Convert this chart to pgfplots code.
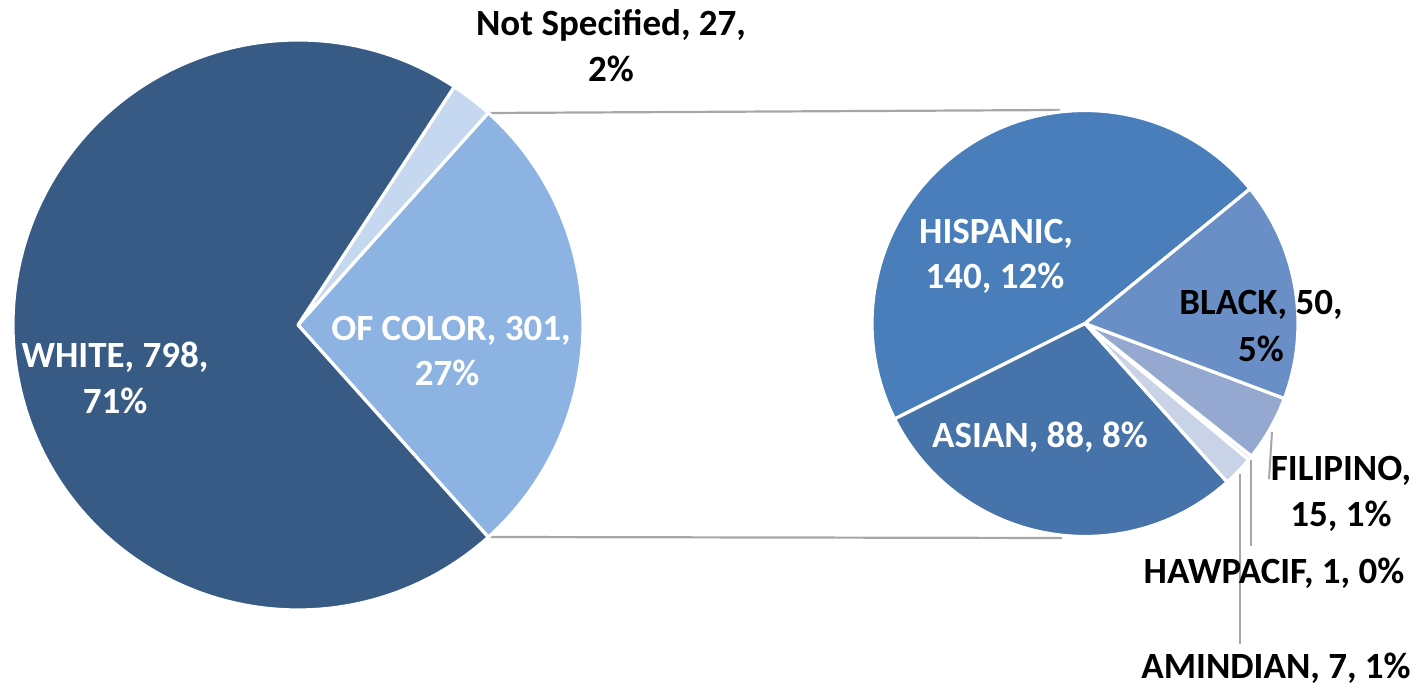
\documentclass[border=0pt]{standalone}
\usepackage{pgfplots}
\pgfplotsset{compat=1.18}
\usepackage{pgfplotstable}
\usepackage{fontspec}
\setmainfont{Carlito}
\definecolor{cWhite}{HTML}{375B85}
\definecolor{cNS}{HTML}{C6D8F0}
\definecolor{cOC}{HTML}{8DB3E2}
\definecolor{cHisp}{HTML}{4A7EBB}
\definecolor{cBlack}{HTML}{6A8FC6}
\definecolor{cAsian}{HTML}{4673A9}
\definecolor{cFil}{HTML}{95A8D0}
\definecolor{cHaw}{HTML}{DDE4F1}
\definecolor{cAmi}{HTML}{C9D3E7}
\definecolor{cLine}{HTML}{A6A6A6}

\pgfplotstableread{
name value
White 798
NotSpecified 27
OfColor 301
}\maintab
\pgfplotstableread{
name value
Hispanic 140
Asian 88
Amindian 7
Hawpacif 1
Filipino 15
Black 50
}\subtab

\newcommand{\getv}[3]{\pgfplotstablegetelem{#2}{value}\of#1\let#3\pgfplotsretval}
\newcommand{\slice}[6]{\filldraw[fill=#6, draw=white, line width=1.6pt, line join=round] (axis cs:#1,#2) -- ++(#4:#3) arc[start angle=#4, end angle=#5, radius=#3] -- cycle;}

\begin{document}
\begin{tikzpicture}
\getv\maintab{0}\vW
\getv\maintab{1}\vNS
\getv\maintab{2}\vOC
\getv\subtab{0}\vH
\getv\subtab{1}\vA
\getv\subtab{2}\vAm
\getv\subtab{3}\vHw
\getv\subtab{4}\vF
\getv\subtab{5}\vB
\pgfmathsetmacro\tA{\vW+\vNS+\vOC}
\pgfmathsetmacro\aOCs{-\vOC/\tA*180}
\pgfmathsetmacro\aOCe{\vOC/\tA*180}
\pgfmathsetmacro\aNSe{\aOCe+\vNS/\tA*360}
\pgfmathsetmacro\aWe{\aOCs+360}
\pgfmathsetmacro\tB{\vH+\vA+\vAm+\vHw+\vF+\vB}
\pgfmathsetmacro\bHs{39.2}
\pgfmathsetmacro\bHe{\bHs+\vH/\tB*360}
\pgfmathsetmacro\bAe{\bHe+\vA/\tB*360}
\pgfmathsetmacro\bAme{\bAe+\vAm/\tB*360}
\pgfmathsetmacro\bHwe{\bAme+\vHw/\tB*360}
\pgfmathsetmacro\bFe{\bHwe+\vF/\tB*360}
\pgfmathsetmacro\bBe{\bHs+360}
\begin{axis}[
  name=ax,
  x=0.5pt, y=0.5pt,
  xmin=0, xmax=1420, ymin=0, ymax=691,
  hide axis, clip=false,
  enlargelimits=false,
]
% connector lines
\addplot[cLine, line width=1.1pt, no markers] coordinates {(490,578) (1060,581)};
\addplot[cLine, line width=1.1pt, no markers] coordinates {(490,154) (1062,153)};
% main pie
\slice{298}{366}{142.5pt}{\aOCs}{\aOCe}{cOC}
\slice{298}{366}{142.5pt}{\aOCe}{\aNSe}{cNS}
\slice{298}{366}{142.5pt}{\aNSe}{\aWe}{cWhite}
% secondary pie
\slice{1085}{367.5}{106.5pt}{\bHs}{\bHe}{cHisp}
\slice{1085}{367.5}{106.5pt}{\bHe}{\bAe}{cAsian}
\slice{1085}{367.5}{106.5pt}{\bAe}{\bAme}{cAmi}
\slice{1085}{367.5}{106.5pt}{\bAme}{\bHwe}{cHaw}
\slice{1085}{367.5}{106.5pt}{\bHwe}{\bFe}{cFil}
\slice{1085}{367.5}{106.5pt}{\bFe}{\bBe}{cBlack}
% leader lines
\addplot[cLine, line width=1pt, no markers] coordinates {(1272,259) (1269,212)};
\addplot[cLine, line width=1pt, no markers] coordinates {(1251,231) (1251,145)};
\addplot[cLine, line width=1pt, no markers] coordinates {(1240,217) (1240,47)};
% labels
\tikzset{lab/.style={font=\bfseries\fontsize{18.5}{22}\selectfont, anchor=base, inner sep=0pt}}
\node[lab] at (axis cs:611,655) {Not Specified, 27,};
\node[lab] at (axis cs:611,609) {2\%};
\node[lab, text=white] at (axis cs:115,323) {WHITE, 798,};
\node[lab, text=white] at (axis cs:115,277) {71\%};
\node[lab, text=white] at (axis cs:451,350) {OF COLOR, 301,};
\node[lab, text=white] at (axis cs:447,305) {27\%};
\node[lab, text=white] at (axis cs:996,447) {HISPANIC,};
\node[lab, text=white] at (axis cs:995,402) {140, 12\%};
\node[lab] at (axis cs:1261,376) {BLACK, 50,};
\node[lab] at (axis cs:1261,329) {5\%};
\node[lab, text=white] at (axis cs:1040,243) {ASIAN, 88, 8\%};
\node[lab] at (axis cs:1341,210) {FILIPINO,};
\node[lab] at (axis cs:1341,164) {15, 1\%};
\node[lab] at (axis cs:1274,107) {HAWPACIF, 1, 0\%};
\node[lab] at (axis cs:1276,12) {AMINDIAN, 7, 1\%};
\end{axis}
\pgfresetboundingbox
\path[use as bounding box] (ax.south west) rectangle (ax.north east);
\end{tikzpicture}
\end{document}
